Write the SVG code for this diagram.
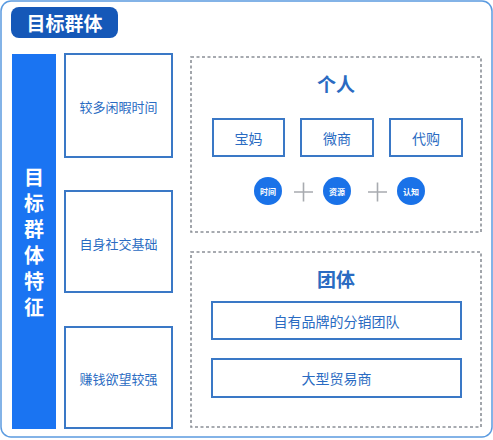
<svg xmlns="http://www.w3.org/2000/svg" width="493" height="440" viewBox="0 0 493 440">
<style>
text{font-family:"Noto Sans CJK SC","Noto Sans",sans-serif;text-anchor:middle;dominant-baseline:central}
.box{fill:#fff;stroke:#3a78c6;stroke-width:2}
.dash{fill:none;stroke:#8a8f96;stroke-width:1.6;stroke-dasharray:3 2.5}
.lbl{fill:#2a6bc2;font-size:13px}
.sm{fill:#2a6bc2;font-size:14px}
.hd{fill:#2a6bc2;font-size:19px;font-weight:bold}
.circ{fill:#1a72e8}
.ct{fill:#fff;font-size:8px;font-weight:bold}
.plus{stroke:#a8abb0;stroke-width:1.6}
</style>
<rect x="1" y="1" width="491" height="436" rx="10" fill="#fff" stroke="#5b9be0" stroke-width="1.5"/>
<g id="title">
<rect x="11" y="7" width="107" height="31" rx="8" fill="#1558b8"/>
<text x="64.5" y="22.5" fill="#fff" font-size="19" font-weight="bold">目标群体</text>
</g>
<g id="sidebar">
<rect x="12" y="54" width="44" height="375" fill="#1a74f2"/>
<text x="34" y="245" fill="#fff" font-size="20" font-weight="bold" style="writing-mode:vertical-rl;letter-spacing:6px">目标群体特征</text>
</g>
<g id="feat1"><rect class="box" x="65" y="54" width="107" height="103"/><text class="lbl" x="118.5" y="106">较多闲暇时间</text></g>
<g id="feat2"><rect class="box" x="65" y="191" width="107" height="101"/><text class="lbl" x="118.5" y="243">自身社交基础</text></g>
<g id="feat3"><rect class="box" x="65" y="327" width="107" height="101"/><text class="lbl" x="118.5" y="378">赚钱欲望较强</text></g>
<g id="individual">
<rect class="dash" x="191" y="57" width="290" height="175"/>
<text class="hd" x="336" y="83">个人</text>
</g>
<g id="baoma"><rect class="box" x="213" y="119" width="71" height="37"/><text class="sm" x="248.5" y="137.5">宝妈</text></g>
<g id="weishang"><rect class="box" x="301" y="119" width="72" height="37"/><text class="sm" x="337" y="137.5">微商</text></g>
<g id="daigou"><rect class="box" x="390" y="119" width="72" height="37"/><text class="sm" x="426" y="137.5">代购</text></g>
<g id="time"><circle class="circ" cx="268" cy="191" r="14"/><text class="ct" x="268" y="191">时间</text></g>
<g id="resource"><circle class="circ" cx="337" cy="191" r="14"/><text class="ct" x="337" y="191">资源</text></g>
<g id="cognition"><circle class="circ" cx="411" cy="191" r="14"/><text class="ct" x="411" y="191">认知</text></g>
<g id="connectors">
<path class="plus" d="M294 192h19M303.5 182.5v19M368 192h19M377.5 182.5v19"/>
</g>
<g id="group">
<rect class="dash" x="191" y="252" width="290" height="175"/>
<text class="hd" x="336" y="278">团体</text>
</g>
<g id="brand"><rect class="box" x="212" y="302" width="249" height="37"/><text class="sm" x="336.5" y="321">自有品牌的分销团队</text></g>
<g id="trader"><rect class="box" x="212" y="359" width="249" height="38"/><text class="sm" x="336.5" y="378">大型贸易商</text></g>
</svg>
